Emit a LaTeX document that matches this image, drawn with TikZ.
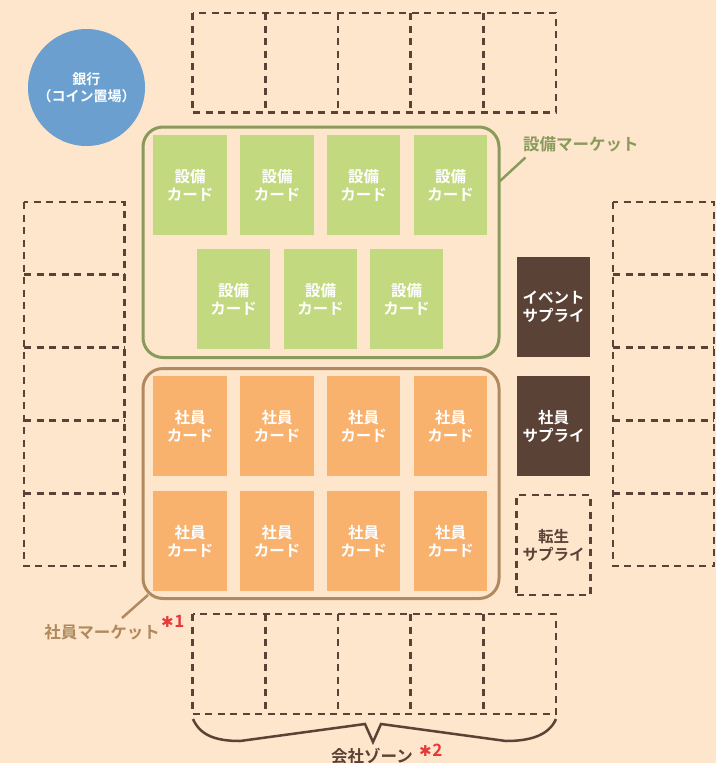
\documentclass[tikz,border=0pt]{standalone}
\usepackage{fontspec}
\setmainfont{Noto Sans CJK JP}[BoldFont={Noto Sans CJK JP Bold}]
\newfontfamily\symfont{DejaVu Sans}
\usetikzlibrary{calc}
\definecolor{bg}{HTML}{FDE6CC}
\definecolor{cardgreen}{HTML}{C2D97F}
\definecolor{mktgreen}{HTML}{8A9A5B}
\definecolor{cardorange}{HTML}{F9B26E}
\definecolor{mktorange}{HTML}{B08A5E}
\definecolor{dbrown}{HTML}{5B4236}
\definecolor{bankblue}{HTML}{6A9FD0}
\definecolor{starred}{HTML}{E8393A}
\tikzset{
  dashedzone/.style={draw=dbrown, line width=2.8pt, dash pattern=on 7pt off 5.5pt},
  card/.style={minimum width=73.5pt, minimum height=100pt, inner sep=0pt, align=center,
     text=white, font=\fontsize{15.5}{18}\selectfont\bfseries},
  gcard/.style={card, fill=cardgreen},
  ocard/.style={card, fill=cardorange},
  supply/.style={card, fill=dbrown},
  market/.style={line width=3pt, rounded corners=20pt},
  mlabel/.style={font=\fontsize{16.5}{18}\selectfont\bfseries, inner sep=0pt},
  star/.style={text=starred, font=\fontsize{17}{18}\selectfont\bfseries, inner sep=0pt},
}
\newcommand{\redstar}{{\symfont\fontsize{15}{18}\selectfont ✱}}
\begin{document}
\begin{tikzpicture}[x=1pt,y=-1pt]
\fill[bg] (0,0) rectangle (716,763);
\useasboundingbox (0,0) rectangle (716,763);

% dashed zones
% top row
\draw[dashedzone] (192.5,13) rectangle (556,112.5);
\foreach \x in {265.2,337.9,410.6,483.3} \draw[dashedzone] (\x,13) -- (\x,112.5);
% bottom row
\draw[dashedzone] (192.5,614) rectangle (556,714);
\foreach \x in {265.2,337.9,410.6,483.3} \draw[dashedzone] (\x,614) -- (\x,714);
% left column
\draw[dashedzone] (24,202) rectangle (124.5,566);
\foreach \y in {274.8,347.6,420.4,493.2} \draw[dashedzone] (24,\y) -- (124.5,\y);
% right column
\draw[dashedzone] (613,202) rectangle (714,566);
\foreach \y in {274.8,347.6,420.4,493.2} \draw[dashedzone] (613,\y) -- (714,\y);

% bank
\node[circle, fill=bankblue, minimum size=117pt, inner sep=0pt, align=center, text=white,
  font=\fontsize{14}{17}\selectfont\bfseries] (bank) at (86.5,87.5) {銀行\\（コイン置場）};

% markets
\draw[market, draw=mktgreen] (143,127) rectangle (499,357.5);
\coordinate (gm) at (500,181);
\draw[draw=mktgreen, line width=2.5pt] (gm) -- (525.5,157.5) coordinate (gml);
\node[mlabel, text=mktgreen, anchor=west] (gmlabel) at (523,144) {設備マーケット};

\draw[market, draw=mktorange] (143,368.5) rectangle (499,598.5);
\coordinate (om) at (148,595);
\draw[draw=mktorange, line width=2.5pt] (om) -- (122,618) coordinate (oml);
\node[mlabel, text=mktorange, anchor=east] (omlabel) at (160,632) {社員マーケット};
\node[star, anchor=west] (s1) at (161,621) {\redstar\kern0.5pt 1};

% green cards
\node[gcard] (g1) at (190,185) {設備\\カード};
\node[gcard] (g2) at (277,185) {設備\\カード};
\node[gcard] (g3) at (363.5,185) {設備\\カード};
\node[gcard] (g4) at (450.5,185) {設備\\カード};
\node[gcard] (g5) at (233.5,299) {設備\\カード};
\node[gcard] (g6) at (320.5,299) {設備\\カード};
\node[gcard] (g7) at (406.5,299) {設備\\カード};

% orange cards
\foreach \x [count=\i] in {190,277,363.5,450.5} {
  \node[ocard] (oa\i) at (\x,426) {社員\\カード};
  \node[ocard] (ob\i) at (\x,541) {社員\\カード};
}

% supplies
\node[supply] (ev) at (553.5,307) {イベント\\サプライ};
\node[supply] (em) at (553.5,426) {社員\\サプライ};
\node[card, dashedzone, text=dbrown] (re) at (553.5,545) {転生\\サプライ};

% brace
\coordinate (bl) at (193,719);
\coordinate (br) at (556,719);
\draw[draw=dbrown, line width=2.5pt, line join=miter]
  (bl) .. controls (200,735) and (215,741) .. (240,741)
  -- (365,724) -- (373,742) -- (381,724) -- (506,741)
  .. controls (531,741) and (549,735) .. (br);
\node[mlabel, text=dbrown, anchor=east] (zone) at (413,756) {会社ゾーン};
\node[star, anchor=west] (s2) at (419,750) {\redstar\kern0.5pt 2};
\end{tikzpicture}
\end{document}
